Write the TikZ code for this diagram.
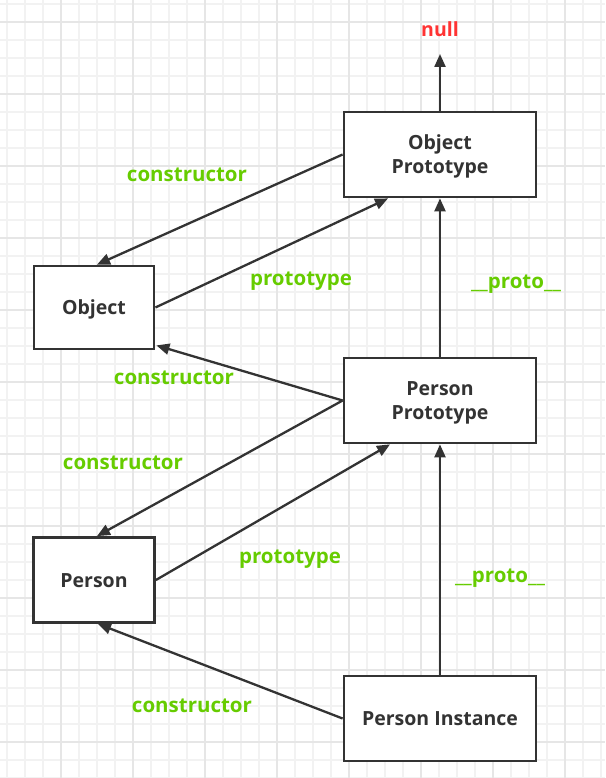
\documentclass[tikz,border=0pt]{standalone}
\usepackage{fontspec}
\setmainfont{Open Sans}
\usetikzlibrary{arrows.meta}
\definecolor{boxc}{HTML}{333333}
\definecolor{lblgreen}{HTML}{66CC00}
\definecolor{nullred}{HTML}{FF3333}
\definecolor{gridminor}{HTML}{F2F2F2}
\definecolor{gridmajor}{HTML}{E6E6E6}
\newcommand\boxtxt[1]{\raisebox{-7.5pt}[0pt][0pt]{\begin{tabular}{@{}c@{}}#1\end{tabular}}}
\tikzset{
  objbox/.style={draw=boxc, line width=2.8pt, fill=white, text=boxc, font=\bfseries\fontsize{19.5}{24}\selectfont, inner sep=0pt},
  arr/.style={draw=boxc, line width=2.3pt, -{Triangle[length=13pt,width=11pt]}},
  lbl/.style={text=lblgreen, font=\bfseries\fontsize{20.5}{24}\selectfont, inner sep=0pt, anchor=base},
}
\begin{document}
\begin{tikzpicture}[x=1pt,y=-1pt]
\useasboundingbox (0,0) rectangle (605,778);
\fill[white] (0,0) rectangle (605,778);
% grid
\foreach \i in {0,...,33} {
  \draw[gridminor, line width=1.4pt] ({7+18*\i},0) -- ({7+18*\i},778);
}
\foreach \i in {0,...,43} {
  \draw[gridminor, line width=1.4pt] (0,{4+18*\i}) -- (605,{4+18*\i});
}
\foreach \i in {0,...,8} {
  \draw[gridmajor, line width=1.4pt] ({61+72*\i-72},0) -- ({61+72*\i-72},778);
}
\foreach \i in {0,...,10} {
  \draw[gridmajor, line width=1.4pt] (0,{22+72*\i}) -- (605,{22+72*\i});
}
% nodes
\node[objbox, minimum width=192pt, minimum height=85pt] (OP) at (440,154.5) {\boxtxt{Object\\Prototype}};
\node[objbox, minimum width=120pt, minimum height=83pt] (Obj) at (94,307.5) {\boxtxt{Object}};
\node[objbox, minimum width=192pt, minimum height=85pt] (PP) at (440,400.5) {\boxtxt{Person\\Prototype}};
\node[objbox, minimum width=121pt, minimum height=85pt] (P) at (94,580) {\boxtxt{Person}};
\node[objbox, minimum width=192pt, minimum height=85pt] (PI) at (440,718.5) {\boxtxt{Person Instance}};
\node[text=nullred, font=\bfseries\fontsize{19.5}{24}\selectfont, inner sep=0pt, anchor=base] (null) at (440,37) {null};
\coordinate (nulltip) at (440,54);
% connectors
\draw[arr] (OP.north) -- (nulltip);
\draw[arr] (OP.west) -- ([xshift=3pt]Obj.north);
\draw[arr] (Obj.east) -- ([xshift=-52pt]OP.south);
\draw[arr] (PP.west) -- ([xshift=1pt,yshift=5pt]Obj.south east);
\draw[arr] (PP.north) -- (OP.south);
\draw[arr] (PP.west) -- ([xshift=3pt]P.north);
\draw[arr] (P.east) -- ([xshift=-50pt]PP.south);
\draw[arr] (PI.north) -- (PP.south);
\draw[arr] (PI.west) -- ([xshift=4pt]P.south);
% labels
\node[lbl] (l1) at (187,181) {constructor};
\node[lbl] (l2) at (301,285) {prototype};
\node[lbl] (l3) at (516,288) {\_\_proto\_\_};
\node[lbl] (l4) at (174,384) {constructor};
\node[lbl] (l5) at (123,469) {constructor};
\node[lbl] (l6) at (290,563) {prototype};
\node[lbl] (l7) at (500,582) {\_\_proto\_\_};
\node[lbl] (l8) at (192,712) {constructor};
\end{tikzpicture}
\end{document}
